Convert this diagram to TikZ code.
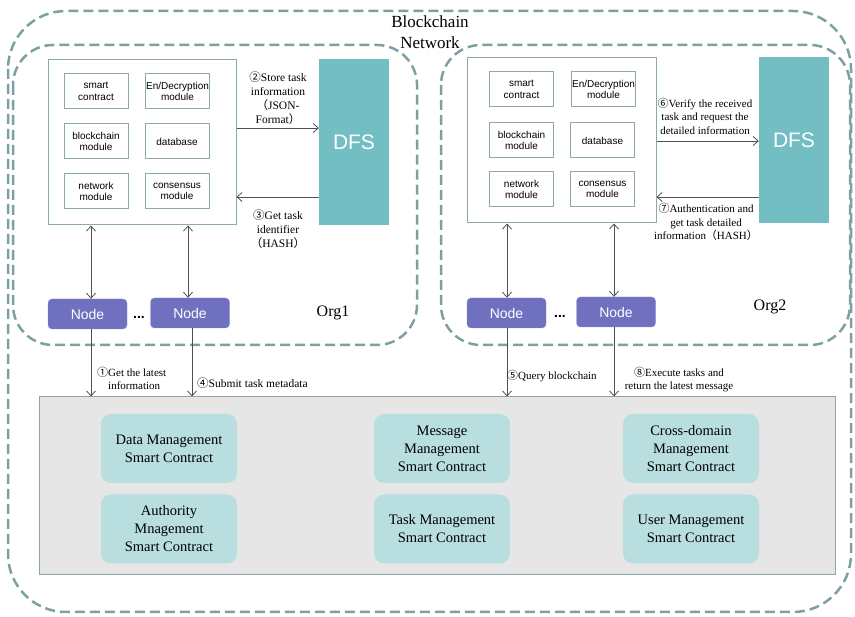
\documentclass[tikz,border=0pt]{standalone}
\usepackage{fontspec}
\setmainfont{Liberation Serif}
\setsansfont{Liberation Sans}
\newfontfamily\cjk{Noto Sans CJK SC}
\newcommand{\cj}[1]{{\cjk #1}}
\usetikzlibrary{arrows.meta}
\definecolor{dashc}{RGB}{125,160,163}
\definecolor{dfsc}{RGB}{114,190,195}
\definecolor{nodec}{RGB}{112,112,192}
\definecolor{ctc}{RGB}{185,222,224}
\definecolor{grayf}{RGB}{230,230,230}
\definecolor{grayd}{RGB}{140,165,165}
\definecolor{boxd}{RGB}{140,170,170}
\definecolor{arrc}{RGB}{80,80,80}
\tikzset{
  orgbox/.style={draw=dashc, line width=2.5pt, dash pattern=on 10pt off 5pt},
  inbox/.style={draw=boxd, line width=1pt, fill=white},
  modbox/.style={draw=boxd, line width=1pt, fill=white, minimum width=64pt, minimum height=35pt, inner sep=0pt, align=center, font=\sffamily\fontsize{10}{11.5}\selectfont},
  dfsbox/.style={fill=dfsc, minimum width=70pt, minimum height=166pt, inner sep=0pt, text=white, font=\sffamily\fontsize{21}{24}\selectfont},
  nodebox/.style={fill=nodec, draw=nodec!80!white, rounded corners=4pt, minimum width=79pt, minimum height=30pt, inner sep=0pt, text=white, font=\sffamily\fontsize{14}{16}\selectfont},
  ctbox/.style={fill=ctc, rounded corners=10pt, minimum width=136pt, minimum height=69pt, inner sep=0pt, align=center, font=\fontsize{14.5}{18}\selectfont},
  lbl/.style={inner sep=0pt, font=\fontsize{11.5}{14}\selectfont},
  arr/.style={draw=arrc, line width=0.8pt, -{Straight Barb[length=5pt,width=9pt]}},
  darr/.style={draw=arrc, line width=0.8pt, {Straight Barb[length=5pt,width=9pt]}-{Straight Barb[length=5pt,width=9pt]}},
}
\begin{document}
\begin{tikzpicture}[x=1pt,y=-1pt]
\useasboundingbox (0,0) rectangle (855,617);
% outer network
\draw[orgbox, rounded corners=58pt] (8,11) rectangle (851,612);
\node[inner sep=0pt, align=center, font=\fontsize{17}{21}\selectfont] (title) at (430,32) {Blockchain\\Network};
% org boxes
\draw[orgbox, rounded corners=40pt] (13,45) rectangle (417,345);
\draw[orgbox, rounded corners=40pt] (441,45) rectangle (850,345);
% Org1 inner
\node[inbox, minimum width=188pt, minimum height=165pt, inner sep=0pt] (in1) at (142,142.5) {};
\node[modbox] (sc1) at (96,91.5) {smart\\contract};
\node[modbox] (en1) at (177.5,91.5) {En/Decryption\\module};
\node[modbox] (bc1) at (96,141.5) {blockchain\\module};
\node[modbox] (db1) at (177,141.5) {database};
\node[modbox] (nw1) at (96,191.5) {network\\module};
\node[modbox] (cs1) at (177,191.5) {consensus\\module};
\node[dfsbox] (dfs1) at (354,142) {DFS};
% Org2 inner
\node[inbox, minimum width=189pt, minimum height=165pt, inner sep=0pt] (in2) at (561.5,140.5) {};
\node[modbox] (sc2) at (521.5,89.5) {smart\\contract};
\node[modbox] (en2) at (603.5,89.5) {En/Decryption\\module};
\node[modbox] (bc2) at (521.5,140.5) {blockchain\\module};
\node[modbox] (db2) at (602.5,140.5) {database};
\node[modbox] (nw2) at (521.5,189.5) {network\\module};
\node[modbox] (cs2) at (602.5,189.5) {consensus\\module};
\node[dfsbox] (dfs2) at (794,140) {DFS};
% nodes
\node[nodebox] (n11) at (87.5,314) {Node};
\node[nodebox] (n12) at (190,313) {Node};
\node[inner sep=0pt, font=\sffamily\bfseries\fontsize{14}{16}\selectfont] (d1) at (139,317) {...};
\node[inner sep=0pt, font=\fontsize{16}{18}\selectfont] (org1) at (333,313) {Org1};
\node[nodebox] (n21) at (506.5,313) {Node};
\node[nodebox] (n22) at (616,312) {Node};
\node[inner sep=0pt, font=\sffamily\bfseries\fontsize{14}{16}\selectfont] (d2) at (560,316) {...};
\node[inner sep=0pt, font=\fontsize{16}{18}\selectfont] (org2) at (770,307) {Org2};
% bottom contract layer
\node[draw=grayd, fill=grayf, line width=1pt, minimum width=796pt, minimum height=178pt, inner sep=0pt] (bc) at (437,486) {};
\node[ctbox] (c1) at (169,448.5) {Data Management\\Smart Contract};
\node[ctbox] (c2) at (169,529) {Authority\\Mnagement\\Smart Contract};
\node[ctbox] (c3) at (442,448.5) {Message\\Management\\Smart Contract};
\node[ctbox] (c4) at (442,529) {Task Management\\Smart Contract};
\node[ctbox] (c5) at (691,448.5) {Cross-domain\\Management\\Smart Contract};
\node[ctbox] (c6) at (691,529) {User Management\\Smart Contract};
% DFS arrows org1
\draw[arr] (in1.east |- 0,128) -- (dfs1.west |- 0,128);
\draw[arr] (dfs1.west |- 0,197) -- (in1.east |- 0,197);
\node[lbl, align=center] (l2) at (278,98) {\cj{②}Store task\\information\\\cj{（}JSON-\\Format\cj{）}};
\node[lbl, align=center] (l3) at (278,229) {\cj{③}Get task\\identifier\\\cj{（}HASH\cj{）}};
% DFS arrows org2
\draw[arr] (in2.east |- 0,141) -- (dfs2.west |- 0,141);
\draw[arr] (dfs2.west |- 0,197) -- (in2.east |- 0,197);
\node[lbl, align=center, font=\fontsize{11}{13.5}\selectfont] (l6) at (705,116) {\cj{⑥}Verify the received\\task and request the\\detailed information};
\node[lbl, align=center, font=\fontsize{11}{13.5}\selectfont] (l7) at (706,222) {\cj{⑦}Authentication and\\get task detailed\\information\cj{（}HASH\cj{）}};
% node <-> inner box
\draw[darr] ([xshift=3.5pt]n11.north) -- ([xshift=3.5pt]n11.north |- in1.south);
\draw[darr] ([xshift=-2pt]n12.north) -- ([xshift=-2pt]n12.north |- in1.south);
\draw[darr] ([xshift=0.5pt]n21.north) -- ([xshift=0.5pt]n21.north |- in2.south);
\draw[darr] ([xshift=-2pt]n22.north) -- ([xshift=-2pt]n22.north |- in2.south);
% node -> contract layer
\draw[arr] ([xshift=3.5pt]n11.south) -- ([xshift=3.5pt]n11.south |- bc.north);
\draw[arr] ([xshift=2pt]n12.south) -- ([xshift=2pt]n12.south |- bc.north);
\draw[arr] ([xshift=0.5pt]n21.south) -- ([xshift=0.5pt]n21.south |- bc.north);
\draw[arr] ([xshift=-2pt]n22.south) -- ([xshift=-2pt]n22.south |- bc.north);
\node[lbl, align=left, anchor=west, font=\fontsize{11}{13}\selectfont] (l1) at (97,378.5) {\cj{①}Get the latest\\\hspace*{11pt}information};
\node[lbl, anchor=west, font=\fontsize{11.5}{13}\selectfont] (l4) at (197,383) {\cj{④}Submit task metadata};
\node[lbl, anchor=west, font=\fontsize{11}{13}\selectfont] (l5) at (507,376) {\cj{⑤}Query blockchain};
\node[lbl, align=center, font=\fontsize{11}{13}\selectfont] (l8) at (679,379.5) {\cj{⑧}Execute tasks and\\return the latest message};
\end{tikzpicture}
\end{document}
